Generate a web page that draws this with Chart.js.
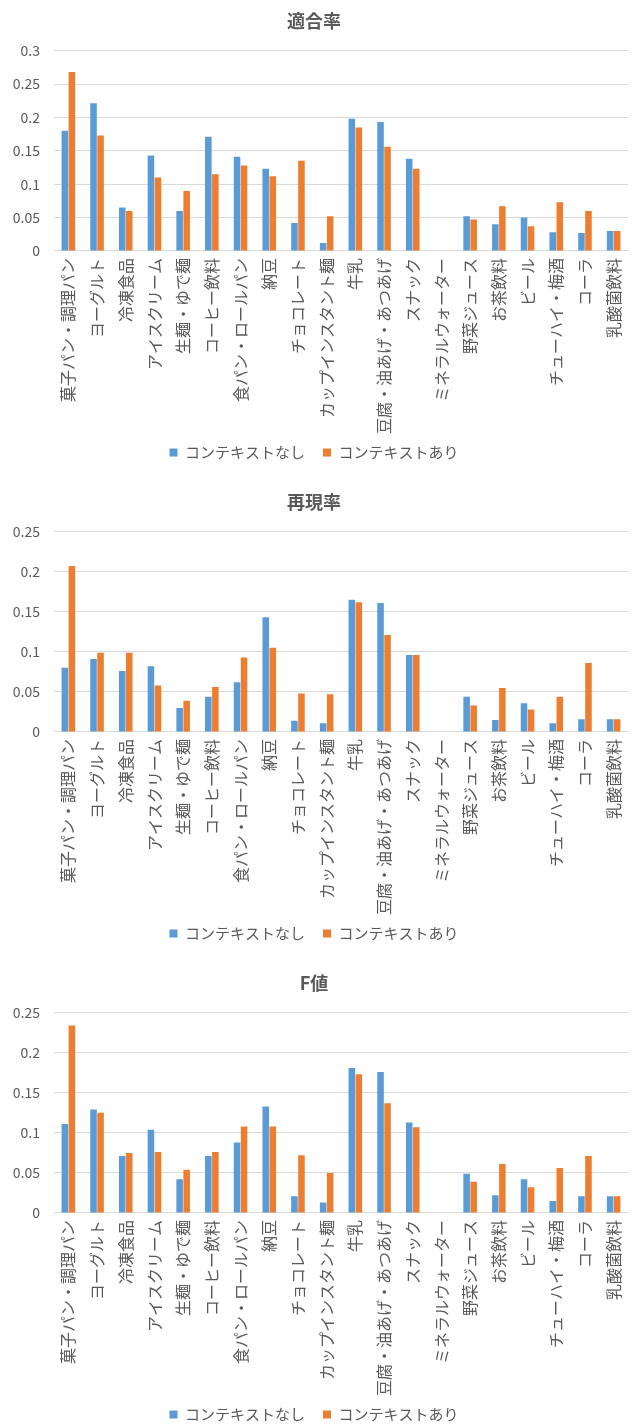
<!DOCTYPE html>
<html>
<head>
<meta charset="utf-8">
<script src="https://cdn.jsdelivr.net/npm/chart.js@4/dist/chart.umd.min.js"></script>
<style>
  html, body { margin: 0; padding: 0; background: #fff; overflow: hidden; }
  .wrap { width: 633px; height: 481px; position: relative; }
</style>
</head>
<body>
<div class="wrap"><canvas id="c1" width="633" height="481"></canvas></div>
<div class="wrap"><canvas id="c2" width="633" height="481"></canvas></div>
<div class="wrap"><canvas id="c3" width="633" height="481"></canvas></div>
<script>
const categories = ["菓子パン・調理パン", "ヨーグルト", "冷凍食品", "アイスクリーム", "生麺・ゆで麺", "コーヒー飲料", "食パン・ロールパン", "納豆", "チョコレート", "カップインスタント麺", "牛乳", "豆腐・油あげ・あつあげ", "スナック", "ミネラルウォーター", "野菜ジュース", "お茶飲料", "ビール", "チューハイ・梅酒", "コーラ", "乳酸菌飲料"];
const seriesNames = ["コンテキストなし", "コンテキストあり"];
const chartTitles = ["適合率", "再現率", "F値"];

const precisionNone = [0.180, 0.221, 0.065, 0.143, 0.060, 0.171, 0.141, 0.123, 0.042, 0.012, 0.198, 0.193, 0.138, 0, 0.052, 0.040, 0.050, 0.028, 0.027, 0.030];
const precisionWith = [0.268, 0.173, 0.060, 0.110, 0.090, 0.115, 0.128, 0.112, 0.135, 0.052, 0.185, 0.156, 0.123, 0, 0.047, 0.067, 0.037, 0.073, 0.060, 0.030];

const recallNone = [0.080, 0.091, 0.076, 0.082, 0.030, 0.044, 0.062, 0.143, 0.014, 0.011, 0.165, 0.161, 0.096, 0, 0.044, 0.015, 0.036, 0.011, 0.016, 0.016];
const recallWith = [0.207, 0.099, 0.099, 0.058, 0.039, 0.056, 0.093, 0.105, 0.048, 0.047, 0.162, 0.121, 0.096, 0, 0.033, 0.055, 0.028, 0.044, 0.086, 0.016];

const fNone = [0.111, 0.129, 0.071, 0.104, 0.042, 0.071, 0.088, 0.133, 0.021, 0.013, 0.181, 0.176, 0.113, 0, 0.049, 0.022, 0.042, 0.015, 0.021, 0.021];
const fWith = [0.234, 0.125, 0.075, 0.076, 0.054, 0.076, 0.108, 0.108, 0.072, 0.050, 0.173, 0.137, 0.107, 0, 0.039, 0.061, 0.032, 0.056, 0.071, 0.021];

const yMaxes = [0.3, 0.25, 0.25];
const yStep = 0.05;

const FONT = "'Noto Sans CJK JP', 'Noto Sans', sans-serif";
const TEXT = '#595959';
const GRID = '#d9d9d9';
const BLUE = '#5B9BD5';
const ORANGE = '#ED7D31';

// let the rotated category labels extend past the (compacted) x-axis box
const unclipLabels = {
  id: 'unclipLabels',
  afterLayout(chart) { chart.scales.x.bottom = chart.height; }
};

function makeChart(id, title, none, withCtx, yMax) {
  new Chart(document.getElementById(id), {
    type: 'bar',
    data: {
      labels: categories,
      datasets: [
        { label: seriesNames[0], data: none, backgroundColor: BLUE, borderWidth: 0, barPercentage: 0.93, categoryPercentage: 0.49 },
        { label: seriesNames[1], data: withCtx, backgroundColor: ORANGE, borderWidth: 0, barPercentage: 0.93, categoryPercentage: 0.49 }
      ]
    },
    plugins: [unclipLabels],
    options: {
      responsive: false,
      animation: false,
      layout: { padding: { left: 0, right: 5, top: 0, bottom: 11 } },
      plugins: {
        title: {
          display: true, text: title, color: TEXT,
          font: { family: FONT, size: 18, weight: 'bold' },
          padding: { top: 10, bottom: 19 }
        },
        legend: {
          position: 'bottom',
          labels: {
            color: TEXT, boxWidth: 8, boxHeight: 8, padding: 18,
            font: { family: FONT, size: 15 }
          }
        },
        tooltip: { enabled: false }
      },
      scales: {
        x: {
          grid: { display: false, drawTicks: false },
          border: { display: true, color: GRID, width: 1 },
          ticks: {
            color: TEXT, font: { family: FONT, size: 16 },
            minRotation: 90, maxRotation: 90, autoSkip: false, padding: 7
          },
          afterFit: s => { s.paddingRight = 5; s.paddingLeft = 0; s.height = 176; }
        },
        y: {
          min: 0, max: yMax,
          grid: { color: GRID, drawTicks: false },
          border: { display: false },
          ticks: {
            stepSize: yStep, color: TEXT, padding: 14,
            font: { family: FONT, size: 14 },
            callback: v => String(parseFloat(v.toFixed(2)))
          },
          afterFit: s => { s.width = 54; }
        }
      }
    }
  });
}

makeChart('c1', chartTitles[0], precisionNone, precisionWith, yMaxes[0]);
makeChart('c2', chartTitles[1], recallNone, recallWith, yMaxes[1]);
makeChart('c3', chartTitles[2], fNone, fWith, yMaxes[2]);
</script>
</body>
</html>
